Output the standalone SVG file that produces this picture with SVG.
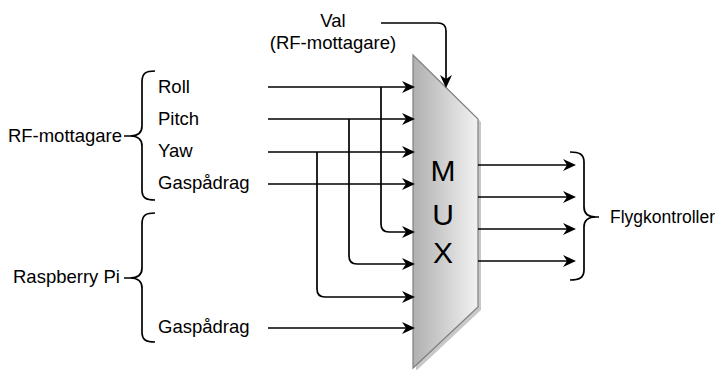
<svg xmlns="http://www.w3.org/2000/svg" width="715" height="370" viewBox="0 0 715 370">
  <style>
    .lbl { font-family: "Liberation Sans", Arial, sans-serif; font-size: 18.5px; fill: #000; }
    .mux { font-family: "Liberation Sans", Arial, sans-serif; font-size: 30px; fill: #000; text-anchor: middle; }
    .wire { fill: none; stroke: #000; stroke-width: 1.7; marker-end: url(#arrow); }
    .brace { fill: none; stroke: #000; stroke-width: 1.7; }
  </style>
  <defs>
    <marker id="arrow" markerUnits="userSpaceOnUse" markerWidth="14" markerHeight="13" refX="11" refY="6" orient="auto">
      <path d="M0,0 L13,6 L0,12 L4,6 z" fill="#000"/>
    </marker>
    <linearGradient id="muxFill" x1="0" y1="0" x2="1" y2="0">
      <stop offset="0" stop-color="#b0b0b0"/>
      <stop offset="1" stop-color="#f2f2f2"/>
    </linearGradient>
  </defs>
  <rect width="715" height="370" fill="#fff"/>

  <!-- multiplexer block with drop shadow -->
  <g id="mux">
    <path d="M416,58 L481,122 L481,310 L416,371 Z" fill="#c8c8c8"/>
    <path d="M413,55 L478,119 L478,307 L413,368 Z" fill="url(#muxFill)" stroke="#808080" stroke-width="1.2"/>
    <text class="mux" x="443" y="181">M</text>
    <text class="mux" x="443" y="225">U</text>
    <text class="mux" x="443" y="263">X</text>
  </g>

  <!-- select input label -->
  <g id="val">
    <text class="lbl" x="333" y="27" text-anchor="middle">Val</text>
    <text class="lbl" x="333" y="49" text-anchor="middle">(RF-mottagare)</text>
  </g>

  <!-- source groups -->
  <g id="rf-group">
    <text class="lbl" x="122" y="142" text-anchor="end">RF-mottagare</text>
    <path class="brace" d="M155,71 C146,71 142,73 142,82 L142,126 C142,133 138,136 130,136 L124,136 M130,136 C138,136 142,139 142,146 L142,190 C142,198 146,200 155,200"/>
    <text class="lbl" x="158" y="93">Roll</text>
    <text class="lbl" x="158" y="125">Pitch</text>
    <text class="lbl" x="158" y="157">Yaw</text>
    <text class="lbl" x="158" y="189">Gaspådrag</text>
  </g>
  <g id="rpi-group">
    <text class="lbl" x="13" y="283">Raspberry Pi</text>
    <path class="brace" d="M155,213 C146,213 142,215 142,224 L142,268 C142,275 138,278 130,278 L124,278 M130,278 C138,278 142,281 142,288 L142,332 C142,340 146,342 155,342"/>
    <text class="lbl" x="158" y="333">Gaspådrag</text>
  </g>

  <!-- output group -->
  <g id="fc-group">
    <path class="brace" d="M570,152 C579,152 584,154 584,162 L584,207 C584,214 588,217 596,217 L599,217 M596,217 C588,217 584,220 584,227 L584,270 C584,278 579,280 570,280"/>
    <text class="lbl" x="610" y="223" style="font-size:17.5px">Flygkontroller</text>
  </g>

  <!-- connectors -->
  <g id="connectors">
    <path class="wire" d="M381,23 L438,23 Q446,23 446,31 L446,86"/>
    <path class="wire" d="M268,87 L413,87"/>
    <path class="wire" d="M268,119 L413,119"/>
    <path class="wire" d="M268,152 L413,152"/>
    <path class="wire" d="M268,184 L413,184"/>
    <path class="wire" d="M381,87 L381,224 Q381,232 389,232 L413,232"/>
    <path class="wire" d="M349,119 L349,256 Q349,264 357,264 L413,264"/>
    <path class="wire" d="M317,152 L317,289 Q317,297 325,297 L413,297"/>
    <path class="wire" d="M268,328 L413,328"/>
    <path class="wire" d="M478,165 L574,165"/>
    <path class="wire" d="M478,197 L574,197"/>
    <path class="wire" d="M478,229 L574,229"/>
    <path class="wire" d="M478,261 L574,261"/>
  </g>
</svg>
